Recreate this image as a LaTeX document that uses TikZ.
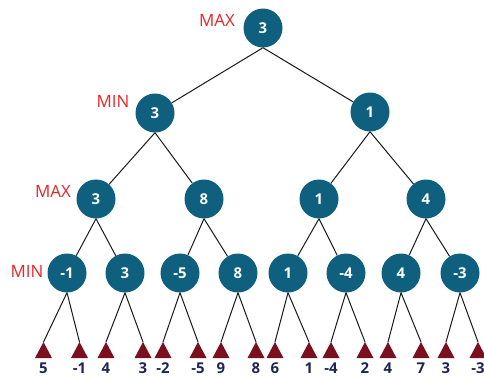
\documentclass[tikz,border=0pt]{standalone}
\usepackage{fontspec}
\setmainfont{Open Sans}
\definecolor{nodeblue}{HTML}{0F5F7E}
\definecolor{leafred}{HTML}{7A0F1E}
\definecolor{valnavy}{HTML}{1C2556}
\definecolor{levelred}{HTML}{E6242A}
\begin{document}
\begin{tikzpicture}[x=1bp,y=-1bp,
  state/.style={circle,fill=nodeblue,text=white,minimum size=39bp,inner sep=0pt,font=\bfseries\fontsize{15}{17}\selectfont},
  edge/.style={draw=black!90,line width=1bp},
  level/.style={text=levelred,font=\fontsize{17}{19}\selectfont,inner sep=0pt},
  value/.style={text=valnavy,font=\bfseries\fontsize{15}{17}\selectfont,inner sep=0pt},
  leaf/.style={fill=leafred}]
\useasboundingbox (0,0) rectangle (484,377);

% game tree nodes
\node[state] (r)   at (263,28)  {3};
\node[state] (a)   at (155,113) {3};
\node[state] (b)   at (370,112) {1};
\node[state] (aa)  at (96,199)  {3};
\node[state] (ab)  at (204,199) {8};
\node[state] (ba)  at (319,199) {1};
\node[state] (bb)  at (426,199) {4};
\node[state] (aaa) at (67,273)  {-1};
\node[state] (aab) at (125,273) {3};
\node[state] (aba) at (180,273) {-5};
\node[state] (abb) at (238,273) {8};
\node[state] (baa) at (288,273) {1};
\node[state] (bab) at (346,273) {-4};
\node[state] (bba) at (401,273) {4};
\node[state] (bbb) at (460,273) {-3};

% level labels
\node[level] (l0) at (217,20)  {MAX};
\node[level] (l1) at (113,101) {MIN};
\node[level] (l2) at (53,191)  {MAX};
\node[level] (l3) at (27,271)  {MIN};

% inner edges
\foreach \p/\c in {r/a,r/b,a/aa,a/ab,b/ba,b/bb,
                   aa/aaa,aa/aab,ab/aba,ab/abb,ba/baa,ba/bab,bb/bba,bb/bbb}
  \draw[edge] (\p.south) -- (\c);

% terminal positions: apex coordinate, triangle, value below
\foreach \i/\x/\v/\p in {1/43.5/5/aaa,2/79.5/-1/aaa,3/106/4/aab,4/143/3/aab,
                         5/163/-2/aba,6/198/-5/aba,7/221/9/abb,8/256/8/abb,
                         9/275/6/baa,10/309/1/baa,11/331/-4/bab,12/365/2/bab,
                         13/388/4/bba,14/421/7/bba,15/446/3/bbb,16/478/-3/bbb}{
  \coordinate (t\i) at (\x,342);
  \draw[edge] (\p.south) -- (t\i);
  \fill[leaf] (t\i) -- ++(-8.5,16) -- ++(17,0) -- cycle;
  \node[value] (v\i) at (\x,368) {\v};
}
\end{tikzpicture}
\end{document}
